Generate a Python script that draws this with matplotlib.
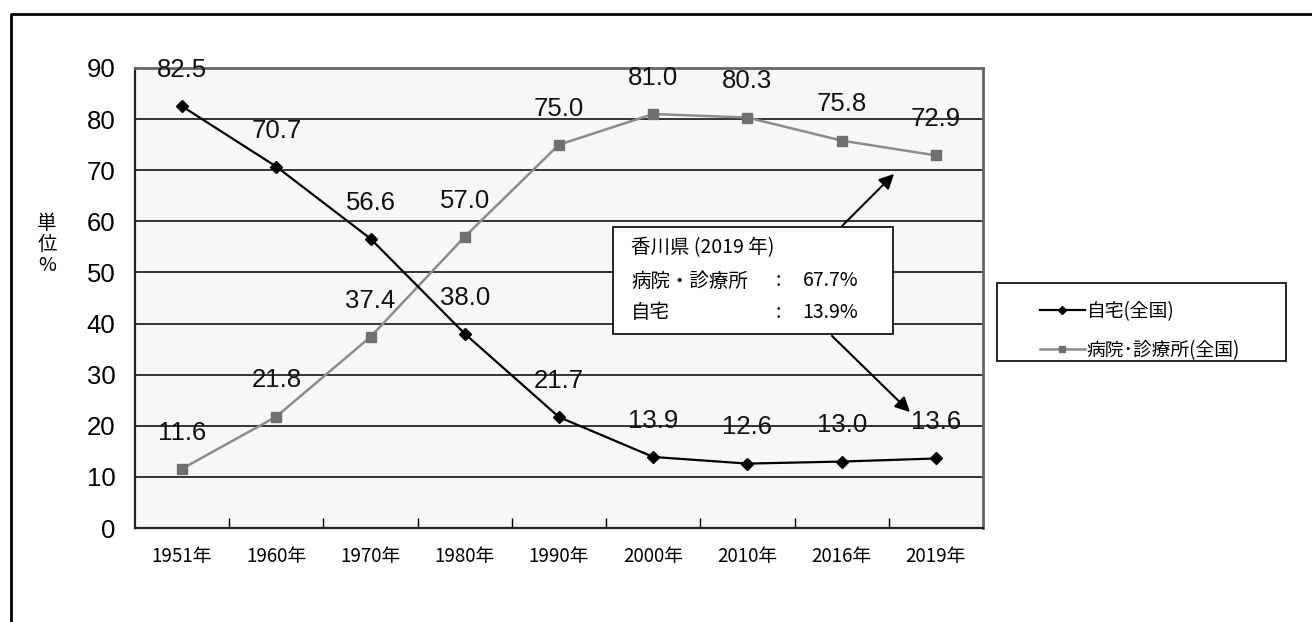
import matplotlib
matplotlib.use("Agg")
import matplotlib.pyplot as plt
from matplotlib.patches import Rectangle, FancyArrowPatch
from matplotlib.lines import Line2D
import numpy as np

plt.rcParams['font.family'] = ['Noto Sans CJK JP', 'DejaVu Sans']

years = ["1951年", "1960年", "1970年", "1980年", "1990年",
         "2000年", "2010年", "2016年", "2019年"]
home = [82.5, 70.7, 56.6, 38.0, 21.7, 13.9, 12.6, 13.0, 13.6]
hospital = [11.6, 21.8, 37.4, 57.0, 75.0, 81.0, 80.3, 75.8, 72.9]
home_label = "自宅(全国)"
hospital_label = "病院･診療所(全国)"
note_title = "香川県 (2019 年)"
note_rows = [("病院・診療所", "67.7%"), ("自宅", "13.9%")]

NUM_FONT = ['Liberation Sans Narrow', 'Liberation Sans', 'DejaVu Sans']
TICK_FONT = ['Liberation Sans Narrow', 'Noto Sans CJK JP', 'DejaVu Sans']

W, H = 1312, 622
fig = plt.figure(figsize=(W / 100, H / 100), dpi=100)
ax = fig.add_axes([135 / W, 1 - 528 / H, (983 - 135) / W, (528 - 68) / H])
ax.set_facecolor("#f7f7f7")

ind = np.arange(len(years))
ax.plot(ind, home, color="black", lw=1.6, marker="D", ms=6.5,
        zorder=4, label=home_label)
ax.plot(ind, hospital, color="#8c8c8c", lw=1.8, marker="s", ms=7,
        markerfacecolor="#6f6f6f", markeredgecolor="#6f6f6f",
        zorder=3, label=hospital_label)

# value labels above each point
for series in (home, hospital):
    for i, v in enumerate(series):
        ax.annotate("%.1f" % v, (i, v), xytext=(0, 26),
                    textcoords="offset points", ha="center", va="center",
                    fontsize=18.5, family=NUM_FONT, color="#111111", zorder=5)

ax.set_xlim(-0.5, len(years) - 0.5)
ax.set_ylim(0, 90)
ax.set_yticks(range(0, 91, 10))
ax.set_yticklabels([str(t) for t in range(0, 91, 10)],
                   fontsize=18.5, family=NUM_FONT)
ax.set_xticks(ind)
ax.set_xticklabels(years, fontsize=13.5, family=TICK_FONT)
ax.set_xticks(ind[:-1] + 0.5, minor=True)
ax.tick_params(axis="x", which="major", length=0, pad=13)
ax.tick_params(axis="x", which="minor", direction="in", length=7,
               width=1, color="black")
ax.tick_params(axis="y", length=0, pad=14)
ax.grid(axis="y", color="black", lw=1.1, zorder=1)
ax.set_axisbelow(True)
for pos in ("left", "bottom"):
    ax.spines[pos].set_color("#222222")
    ax.spines[pos].set_linewidth(1.6)
for pos in ("top", "right"):
    ax.spines[pos].set_color("#666666")
    ax.spines[pos].set_linewidth(2)

fig.text(47 / W, 1 - 244 / H, "単\n位\n%", ha="center", va="center",
         fontsize=14, linespacing=1.0)

# legend, framed separately
fig.add_artist(Rectangle((997 / W, 1 - 361 / H), 289 / W, 78 / H,
                         transform=fig.transFigure, fill=False,
                         edgecolor="black", lw=1.2))
fig.legend(loc="upper left", bbox_to_anchor=(1023 / W, 1 - 284 / H),
           frameon=False, fontsize=13.5, handlelength=2.4,
           handletextpad=0.1, labelspacing=0.95, markerscale=0.7)

# Kagawa note box with arrows
fig.add_artist(Rectangle((613 / W, 1 - 334 / H), 280 / W, 107 / H,
                         transform=fig.transFigure, facecolor="white",
                         edgecolor="black", lw=1.2, zorder=6))
fig.text(631 / W, 1 - 248 / H, note_title, fontsize=14, va="center",
         zorder=7)
for k, (name, val) in enumerate(note_rows):
    y = 1 - (281 + 32 * k) / H
    fig.text(631 / W, y, name, fontsize=14, va="center", zorder=7)
    fig.text(778 / W, y, ":", fontsize=14, va="center", ha="center",
             zorder=7)
    fig.text(858 / W, y, val, fontsize=14, va="center", ha="right",
             zorder=7)
arrow = dict(arrowstyle="-|>", color="black", lw=1.5, mutation_scale=22)
fig.add_artist(FancyArrowPatch(
    (840 / W, 1 - 228 / H), (896 / W, 1 - 172 / H),
    transform=fig.transFigure, **arrow))
fig.add_artist(FancyArrowPatch(
    (830 / W, 1 - 334 / H), (912 / W, 1 - 414 / H),
    transform=fig.transFigure, **arrow))

# outer frame
fig.add_artist(Line2D([11 / W, 11 / W, 1.0], [0.0, 1 - 14 / H, 1 - 14 / H],
                      transform=fig.transFigure, color="black", lw=2))

fig.savefig("out.png", dpi=100)
